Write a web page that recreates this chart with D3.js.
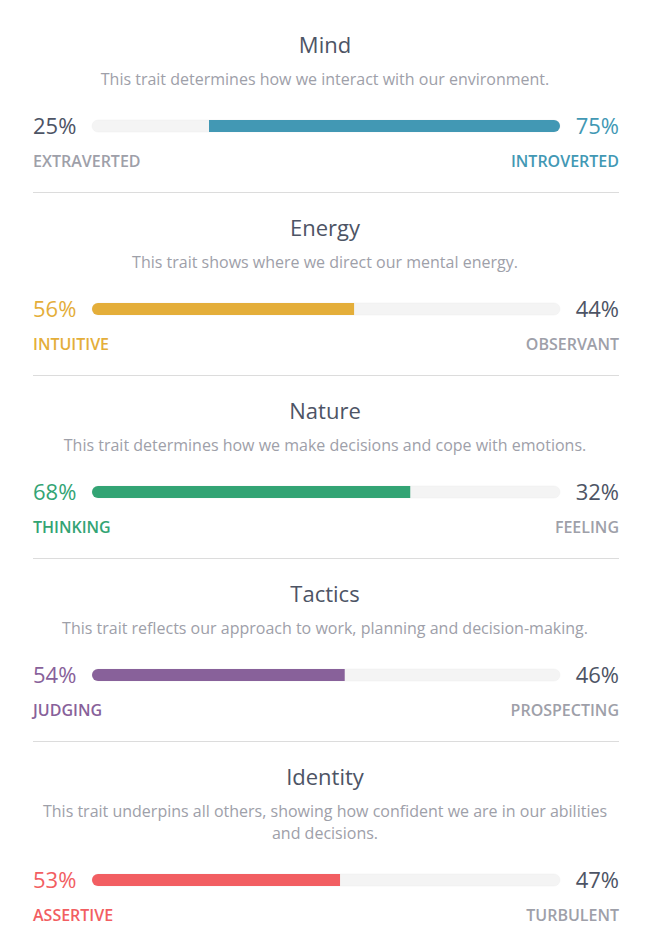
<!DOCTYPE html>
<html><head><meta charset="utf-8">
<script src="https://cdn.jsdelivr.net/npm/d3@7"></script>
<style>
html,body{margin:0;padding:0;background:#fff;}
svg{display:block;font-family:"Open Sans",sans-serif;}
</style></head>
<body>
<svg id="chart" width="650" height="945"></svg>
<script>
const traits = ["Mind","Energy","Nature","Tactics","Identity"];
const descriptions = [
  "This trait determines how we interact with our environment.",
  "This trait shows where we direct our mental energy.",
  "This trait determines how we make decisions and cope with emotions.",
  "This trait reflects our approach to work, planning and decision-making.",
  "This trait underpins all others, showing how confident we are in our abilities and decisions."
];
const leftLabels = ["EXTRAVERTED","INTUITIVE","THINKING","JUDGING","ASSERTIVE"];
const rightLabels = ["INTROVERTED","OBSERVANT","FEELING","PROSPECTING","TURBULENT"];
const leftValues = [25,56,68,54,53];
const rightValues = [75,44,32,46,47];
const traitColors = ["#4298b4","#e4ae3a","#33a474","#88619a","#f25e62"];

const W = 650, left = 33, right = 619;
const dark = "#4d5465", gray = "#9ea0a9", track = "#f4f4f4";
const svg = d3.select("#chart");
const x = d3.scaleLinear().domain([0,100]).range([92,560]);
const barH = 12;

function wrap(textSel, width, lineH){
  const words = textSel.text().split(/\s+/);
  textSel.text(null);
  let line = [], lines = 0;
  let tspan = textSel.append("tspan").attr("x", W/2).attr("dy", 0);
  words.forEach(w => {
    line.push(w);
    tspan.text(line.join(" "));
    if (tspan.node().getComputedTextLength() > width && line.length > 1){
      line.pop(); tspan.text(line.join(" "));
      line = [w]; lines++;
      tspan = textSel.append("tspan").attr("x", W/2).attr("dy", lineH).text(w);
    }
  });
  return lines + 1;
}

let y0 = 0;
traits.forEach((t,i) => {
  const g = svg.append("g").attr("transform", `translate(0,${y0})`);
  g.append("text").attr("x", W/2).attr("y", 53).attr("text-anchor","middle")
    .attr("font-size", 22).attr("fill", dark).text(t);
  const desc = g.append("text").attr("x", W/2).attr("y", 85).attr("text-anchor","middle")
    .attr("font-size", 16).attr("fill", gray).text(descriptions[i]);
  const nLines = wrap(desc, right-left, 22);
  const extra = (nLines-1)*22;
  const gb = g.append("g").attr("transform", `translate(0,${extra})`);
  const cy = 126;
  const col = traitColors[i];
  const leftDom = leftValues[i] >= rightValues[i];
  gb.append("rect").attr("x", x(0)).attr("y", cy-barH/2).attr("width", x(100)-x(0)).attr("height", barH)
    .attr("rx", barH/2).attr("fill", track).attr("stroke","#eeeeee").attr("stroke-width",0.5);
  const r = barH/2;
  let path;
  if (leftDom){
    const x0 = x(0), x1 = x(leftValues[i]);
    path = `M${x1},${cy-r} L${x0+r},${cy-r} A${r},${r} 0 0 0 ${x0+r},${cy+r} L${x1},${cy+r} Z`;
  } else {
    const x0 = x(leftValues[i]), x1 = x(100);
    path = `M${x0},${cy-r} L${x1-r},${cy-r} A${r},${r} 0 0 1 ${x1-r},${cy+r} L${x0},${cy+r} Z`;
  }
  gb.append("path").attr("d", path).attr("fill", col);
  gb.append("text").attr("x", left).attr("y", 134).attr("font-size", 22)
    .attr("fill", leftDom ? col : dark).text(leftValues[i] + "%");
  gb.append("text").attr("x", right).attr("y", 134).attr("text-anchor","end").attr("font-size", 22)
    .attr("fill", leftDom ? dark : col).text(rightValues[i] + "%");
  gb.append("text").attr("x", left).attr("y", 167).attr("font-size", 16).attr("font-weight", 600)
    .attr("fill", leftDom ? col : gray).text(leftLabels[i]);
  gb.append("text").attr("x", right).attr("y", 167).attr("text-anchor","end").attr("font-size", 16).attr("font-weight", 600)
    .attr("fill", leftDom ? gray : col).text(rightLabels[i]);
  if (i < traits.length-1){
    gb.append("line").attr("x1", left).attr("x2", right).attr("y1", 192.5).attr("y2", 192.5)
      .attr("stroke", "#dcdcdc").attr("stroke-width", 1);
  }
  y0 += 183 + extra;
});
</script>
</body></html>
